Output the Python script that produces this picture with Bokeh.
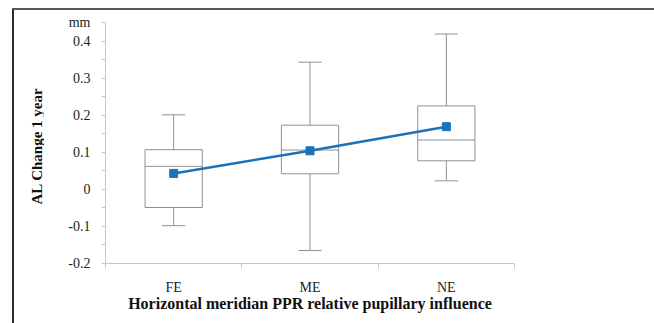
import math
from bokeh.plotting import figure
from bokeh.models import FixedTicker, Range1d, Spacer, Div
from bokeh.core.properties import value
from bokeh.layouts import column, row
from bokeh.embed import file_html
from bokeh.resources import INLINE

categories = ["FE", "ME", "NE"]
whisker_low = [-0.098, -0.165, 0.023]
q1 = [-0.049, 0.042, 0.077]
median = [0.062, 0.106, 0.133]
q3 = [0.107, 0.173, 0.225]
whisker_high = [0.201, 0.343, 0.419]
mean = [0.043, 0.104, 0.169]

y_major = [-0.2, -0.1, 0.0, 0.1, 0.2, 0.3, 0.4, 0.45]
y_labels = ["-0.2", "-0.1", "0", "0.1", "0.2", "0.3", "0.4", "mm"]
y_minor = [-0.15, -0.05, 0.05, 0.15, 0.25, 0.35]

y_title = "AL Change 1 year"
x_title = "Horizontal meridian PPR relative pupillary influence"

FONT = "Liberation Serif"
GRAY = "#8c9196"
AXIS = "#c4c8cc"
BLUE = "#1a73ba"

xs = [i + 0.5 for i in range(len(categories))]
bw = 0.42
cw = 0.17

p = figure(width=610, height=313, output_backend="svg", toolbar_location=None,
           x_range=Range1d(0, len(categories)), y_range=Range1d(-0.2, 0.45),
           min_border_left=61, min_border_right=140, min_border_top=12, min_border_bottom=60)
p.outline_line_color = None
p.grid.visible = False
p.background_fill_color = "white"

# boxes
p.quad(left=[x - bw / 2 for x in xs], right=[x + bw / 2 for x in xs], bottom=q1, top=q3,
       fill_color="white", line_color=GRAY, line_width=1)
p.segment(x0=[x - bw / 2 for x in xs], x1=[x + bw / 2 for x in xs], y0=median, y1=median,
          line_color=GRAY, line_width=1)
p.segment(x0=xs, x1=xs, y0=q3, y1=whisker_high, line_color=GRAY, line_width=1)
p.segment(x0=xs, x1=xs, y0=q1, y1=whisker_low, line_color=GRAY, line_width=1)
p.segment(x0=[x - cw / 2 for x in xs], x1=[x + cw / 2 for x in xs], y0=whisker_high, y1=whisker_high,
          line_color=GRAY, line_width=1)
p.segment(x0=[x - cw / 2 for x in xs], x1=[x + cw / 2 for x in xs], y0=whisker_low, y1=whisker_low,
          line_color=GRAY, line_width=1)

# mean line
p.line(xs, mean, line_color=BLUE, line_width=2.5)
p.scatter(xs, mean, marker="square", size=8, fill_color=BLUE, line_color=BLUE)

# x axis
xa = p.xaxis[0]
xa.ticker = FixedTicker(ticks=xs, minor_ticks=list(range(len(categories) + 1)))
xa.major_label_overrides = {x: c for x, c in zip(xs, categories)}
xa.major_tick_out = 0
xa.major_tick_in = 0
xa.minor_tick_out = 5
xa.minor_tick_in = 0
xa.minor_tick_line_color = AXIS
xa.axis_line_color = AXIS
xa.major_label_text_font = FONT
xa.major_label_text_font_size = "14px"
xa.major_label_text_color = "#222222"
xa.major_label_standoff = 11
xa.axis_label = x_title
xa.axis_label_text_font = FONT
xa.axis_label_text_font_size = "16px"
xa.axis_label_text_font_style = "bold"
xa.axis_label_text_color = "#111111"
xa.axis_label_standoff = -3

# y axis
ya = p.yaxis[0]
ya.ticker = FixedTicker(ticks=y_major, minor_ticks=y_minor)
ya.major_label_overrides = {v: s for v, s in zip(y_major, y_labels)}
ya.major_tick_out = 4
ya.major_tick_in = 0
ya.minor_tick_out = 4
ya.minor_tick_in = 0
ya.major_tick_line_color = AXIS
ya.minor_tick_line_color = AXIS
ya.axis_line_color = AXIS
ya.major_label_text_font = FONT
ya.major_label_text_font_size = "14px"
ya.major_label_text_color = "#222222"
ya.major_label_standoff = 11

# y title strip (separate narrow canvas so the title can sit off-centre)
tw, th = 30, 313
tfig = figure(width=tw, height=th, output_backend="svg", toolbar_location=None,
              x_axis_type=None, y_axis_type=None, min_border=0,
              x_range=Range1d(0, tw), y_range=Range1d(0, th))
tfig.outline_line_color = None
tfig.grid.visible = False
tfig.text(x=[22], y=[th - 160.5], text=[y_title], angle=math.pi / 2,
          text_align="center", text_baseline="middle", text_font=value(FONT),
          text_font_size="15px", text_font_style="bold", text_color="#111111")

top_rule = Div(text="", width=642, height=2, margin=0,
               styles={"background-color": "#555555"})
left_rule = Div(text="", width=2, height=313, margin=0,
                styles={"background-color": "#2a2a2a"})

page = column(
    Spacer(width=654, height=8, margin=0),
    row(Spacer(width=12, height=2, margin=0), top_rule, margin=0),
    row(Spacer(width=12, height=313, margin=0), left_rule, tfig, p, margin=0),
    margin=0,
)

open("out.html", "w").write(file_html(page, INLINE))
